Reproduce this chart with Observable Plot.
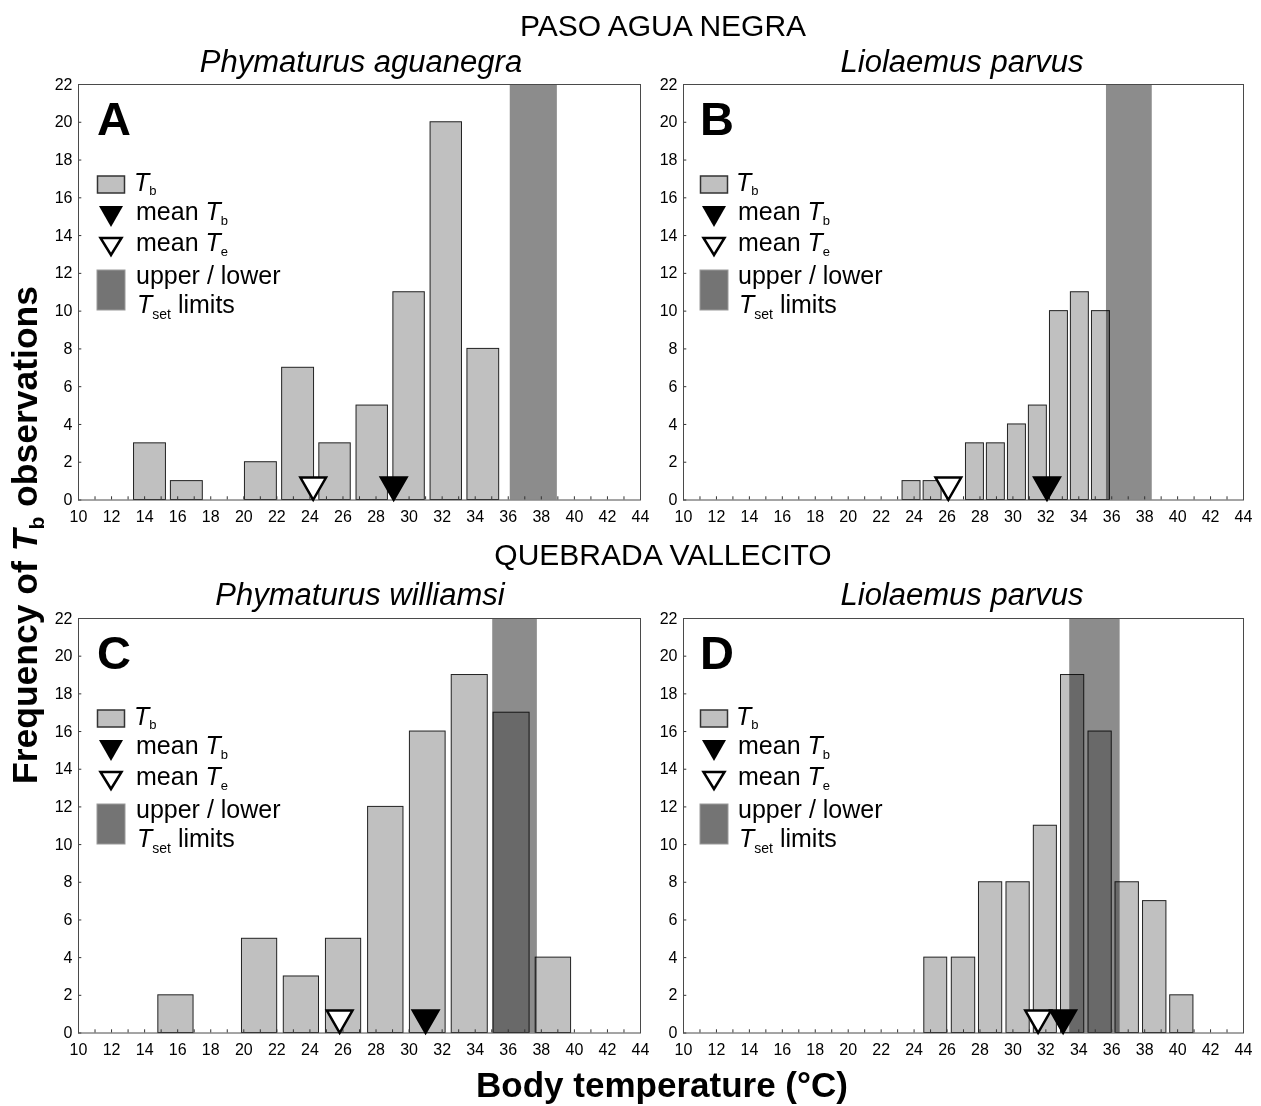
<!DOCTYPE html>
<html><head><meta charset="utf-8">
<script src="https://cdn.jsdelivr.net/npm/d3@7"></script>
<script src="https://cdn.jsdelivr.net/npm/@observablehq/plot@0.6"></script>
<style>
body{margin:0;background:#fff;}
#root{position:relative;width:1261px;height:1106px;overflow:hidden;font-family:"Liberation Sans",Arial,sans-serif;}
.panel{position:absolute;}
#overlay{position:absolute;left:0;top:0;pointer-events:none;}
</style></head><body><div id="root"></div>
<script>
// ---------- data ----------
const siteTitles = ["PASO AGUA NEGRA", "QUEBRADA VALLECITO"];
const speciesTitles = ["Phymaturus aguanegra", "Liolaemus parvus", "Phymaturus williamsi", "Liolaemus parvus"];
const panelLetters = ["A", "B", "C", "D"];
const xTickLabels = [10,12,14,16,18,20,22,24,26,28,30,32,34,36,38,40,42,44];
const xMinorTicks = [11,12,13,14,15,16,17,18,19,20,21,22,23,24,25,26,27,28,29,30,31,32,33,34,35,36,37,38,39,40,41,42,43];
const yTickLabels = [0,2,4,6,8,10,12,14,16,18,20,22];
const xDomain = [10, 44];
const yDomain = [0, 22];

const binStartA = [13.36, 15.59, 20.07, 22.32, 24.57, 26.82, 29.05, 31.30, 33.53];
const binEndA   = [15.29, 17.52, 22.00, 24.25, 26.47, 28.72, 30.95, 33.20, 35.45];
const countA    = [3, 1, 2, 7, 3, 5, 11, 20, 8];
const tsetA = [36.12, 38.97];
const meanTbA = 29.07, meanTeA = 24.2;

const binStartB = [23.30, 24.58, 27.15, 28.42, 29.70, 30.97, 32.25, 33.52, 34.80];
const binEndB   = [24.39, 25.67, 28.24, 29.51, 30.79, 32.06, 33.34, 34.61, 35.89];
const countB    = [1, 1, 3, 3, 4, 5, 10, 11, 10];
const tsetB = [35.68, 38.46];
const meanTbB = 32.07, meanTeB = 26.08;

const binStartC = [14.83, 19.89, 22.42, 24.97, 27.52, 30.05, 32.58, 35.11, 37.66];
const binEndC   = [16.96, 22.02, 24.55, 27.10, 29.66, 32.21, 34.76, 37.29, 39.80];
const countC    = [2, 5, 3, 5, 12, 16, 19, 17, 4];
const tsetC = [35.06, 37.76];
const meanTbC = 31.0, meanTeC = 25.8;

const binStartD = [24.62, 26.29, 27.94, 29.61, 31.27, 32.92, 34.59, 36.23, 37.90, 39.55];
const binEndD   = [26.01, 27.71, 29.35, 31.02, 32.67, 34.33, 36.00, 37.65, 39.32, 40.96];
const countD    = [4, 4, 8, 8, 11, 19, 16, 8, 7, 2];
const tsetD = [33.45, 36.51];
const meanTbD = 33.05, meanTeD = 31.53;

// ---------- layout ----------
const FONT = "'Liberation Sans', Arial, Helvetica, sans-serif";
const layouts = [
  {left: 0,   top: 54,  mL: 78, mT: 30, w: 562, h: 415.5, mR: 16, mB: 34},
  {left: 656, top: 54,  mL: 27, mT: 30, w: 560, h: 415.5, mR: 14, mB: 34},
  {left: 0,   top: 588, mL: 78, mT: 30, w: 562, h: 414.5, mR: 16, mB: 34},
  {left: 656, top: 588, mL: 27, mT: 30, w: 560, h: 414.5, mR: 14, mB: 34}
];
const panelsData = [
  {start: binStartA, end: binEndA, count: countA, tset: tsetA, tb: meanTbA, te: meanTeA},
  {start: binStartB, end: binEndB, count: countB, tset: tsetB, tb: meanTbB, te: meanTeB},
  {start: binStartC, end: binEndC, count: countC, tset: tsetC, tb: meanTbC, te: meanTeC},
  {start: binStartD, end: binEndD, count: countD, tset: tsetD, tb: meanTbD, te: meanTeD}
];

const root = document.getElementById("root");

function makePanel(d, L) {
  const bars = d.start.map((s, i) => ({x1: s, x2: d.end[i], n: d.count[i]}));
  const band = [{a: d.tset[0], b: d.tset[1]}];
  const tri = {symbol: "triangle", r: 9.5, rotate: 180, dy: -15, stroke: "black", strokeWidth: 2.5, strokeLinejoin: "miter"};
  return Plot.plot({
    width: L.mL + L.w + L.mR,
    height: L.mT + L.h + L.mB,
    marginLeft: L.mL, marginRight: L.mR, marginTop: L.mT, marginBottom: L.mB,
    x: {domain: xDomain},
    y: {domain: yDomain},
    style: {fontFamily: FONT, fontSize: "16px", color: "#000", background: "transparent", overflow: "visible"},
    marks: [
      Plot.rectY(bars, {x1: "x1", x2: "x2", y: "n", fill: "#c0c0c0", stroke: "#222", strokeWidth: 1}),
      Plot.rect(band, {x1: "a", x2: "b", y1: () => yDomain[0], y2: () => yDomain[1], fill: "#8c8c8c", mixBlendMode: "multiply"}),
      Plot.ruleX(xMinorTicks, {y1: () => yDomain[0], y2: () => 0.17, stroke: "#333"}),
      Plot.ruleY(yTickLabels, {x1: () => xDomain[0], x2: () => 10.2, stroke: "#333"}),
      Plot.frame({stroke: "#4a4a4a", strokeWidth: 1}),
      Plot.axisX(xTickLabels, {tickSize: 0, tickPadding: 11, fontSize: 16, label: null}),
      Plot.axisY(yTickLabels, {tickSize: 0, tickPadding: 6, fontSize: 16, label: null}),
      Plot.dot([d.te], {x: v => v, y: () => 0, fill: "white", ...tri}),
      Plot.dot([d.tb], {x: v => v, y: () => 0, fill: "black", ...tri})
    ]
  });
}

panelsData.forEach((d, i) => {
  const L = layouts[i];
  const div = document.createElement("div");
  div.className = "panel";
  div.style.left = L.left + "px";
  div.style.top = L.top + "px";
  div.appendChild(makePanel(d, L));
  root.appendChild(div);
});

// ---------- overlay text (titles, legends, axis titles) ----------
const svg = d3.create("svg").attr("id", "overlay").attr("width", 1261).attr("height", 1106)
  .style("font-family", FONT);

function subText(g, x, y, parts, size) {
  const t = g.append("text").attr("x", x).attr("y", y).attr("font-size", size).attr("fill", "#000");
  parts.forEach(p => {
    const ts = t.append("tspan").text(p.t);
    if (p.i) ts.attr("font-style", "italic");
    if (p.s) ts.attr("font-size", p.s);
    if (p.dy) ts.attr("dy", p.dy);
    if (p.b) ts.attr("font-weight", "bold");
  });
  return t;
}

// site titles
[[36, 0], [565, 1]].forEach(([y, k]) => {
  svg.append("text").attr("x", 663).attr("y", y).attr("text-anchor", "middle")
    .attr("font-size", 30).text(siteTitles[k]);
});
// species titles
const specPos = [[361, 72], [962, 72], [360, 605], [962, 605]];
speciesTitles.forEach((s, i) => {
  svg.append("text").attr("x", specPos[i][0]).attr("y", specPos[i][1]).attr("text-anchor", "middle")
    .attr("font-size", 31).attr("font-style", "italic").text(s);
});

// panel letters & legends
layouts.forEach((L, i) => {
  const fx = L.left + L.mL, fy = L.top + L.mT;
  const g = svg.append("g");
  const lx = fx + (i % 2 === 0 ? 19 : 17);
  const tx = fx + (i % 2 === 0 ? 58 : 55);
  g.append("text").attr("x", lx).attr("y", fy + 51).attr("font-size", 47).attr("font-weight", "bold").text(panelLetters[i]);
  // Tb box
  g.append("rect").attr("x", lx + 0.5).attr("y", fy + 92).attr("width", 27).attr("height", 17)
    .attr("fill", "#c0c0c0").attr("stroke", "#333").attr("stroke-width", 1.5);
  subText(g, tx - 2, fy + 107, [{t: "T", i: true}, {t: "b", s: 13, dy: 4}], 25);
  // mean Tb
  const cx = lx + 14;
  g.append("path").attr("d", `M${cx - 12},${fy + 122}L${cx + 12},${fy + 122}L${cx},${fy + 143}Z`).attr("fill", "#000");
  subText(g, tx, fy + 136, [{t: "mean "}, {t: "T", i: true}, {t: "b", s: 13, dy: 5}], 25);
  // mean Te
  g.append("path").attr("d", `M${cx - 10.5},${fy + 154}L${cx + 10.5},${fy + 154}L${cx},${fy + 171}Z`)
    .attr("fill", "#fff").attr("stroke", "#000").attr("stroke-width", 2.5);
  subText(g, tx, fy + 167, [{t: "mean "}, {t: "T", i: true}, {t: "e", s: 13, dy: 5}], 25);
  // Tset
  g.append("rect").attr("x", lx).attr("y", fy + 186).attr("width", 28).attr("height", 40)
    .attr("fill", "#747474").attr("stroke", "#9a9a9a").attr("stroke-width", 1);
  subText(g, tx, fy + 200, [{t: "upper / lower"}], 25);
  subText(g, tx + 1, fy + 229, [{t: "T", i: true}, {t: "set", s: 14, dy: 6}, {t: " limits", dy: -6}], 25);
});

// axis titles
const yl = svg.append("text").attr("transform", "translate(37,535) rotate(-90)").attr("text-anchor", "middle")
  .attr("font-size", 35.5).attr("font-weight", "bold");
yl.append("tspan").text("Frequency of ");
yl.append("tspan").attr("font-style", "italic").text("T");
yl.append("tspan").attr("font-size", 21).attr("dy", 7).text("b");
yl.append("tspan").attr("dy", -7).text(" observations");

svg.append("text").attr("x", 662).attr("y", 1097).attr("text-anchor", "middle")
  .attr("font-size", 35).attr("font-weight", "bold").text("Body temperature (°C)");

root.appendChild(svg.node());
</script>
</body></html>
